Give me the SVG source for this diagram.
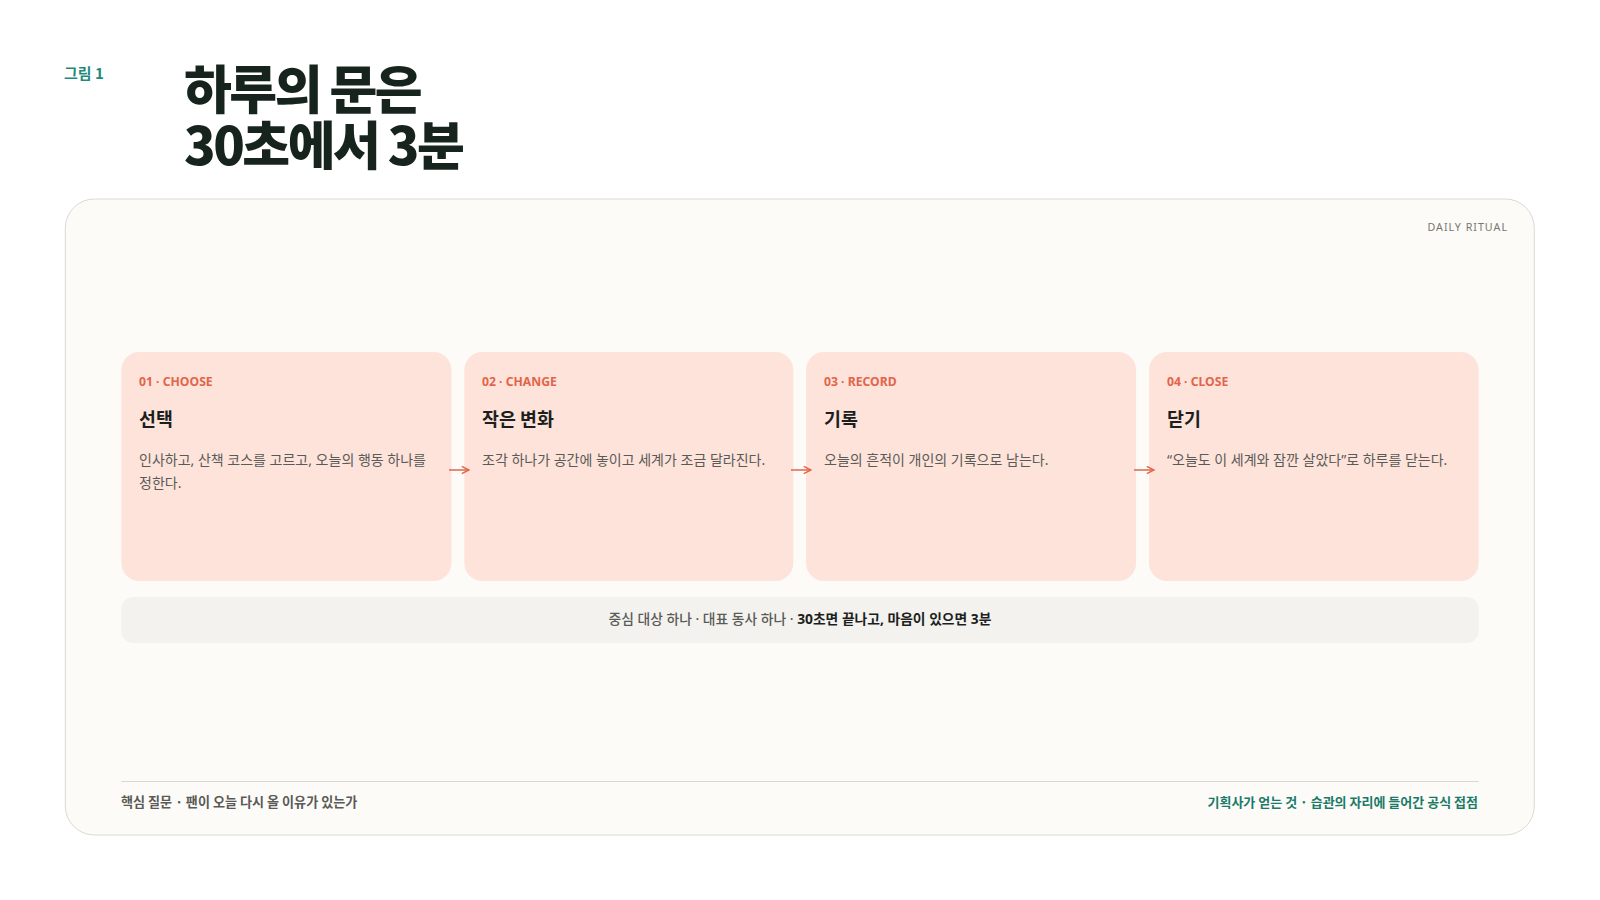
<svg xmlns="http://www.w3.org/2000/svg" width="1600" height="900" viewBox="0 0 1600 900">
<defs>
<style>
.k{font-family:"Noto Sans CJK KR","Noto Sans",sans-serif}
.m{font-family:"Noto Sans","Noto Sans CJK KR",sans-serif}
.tag{font-size:12.2px;font-weight:700;fill:#e2654a}
.ttl{font-size:18.4px;font-weight:700;fill:#1c1f1d}
.body{font-size:14px;fill:#5a5a57}
.card{fill:#fde3da}
.conn{stroke:#e2654a;stroke-width:1.5;fill:none}
</style>
<marker id="ah" viewBox="0 0 10 10" refX="9" refY="5" markerWidth="6" markerHeight="6" orient="auto">
<path d="M1,1 L9,5 L1,9" fill="none" stroke="#e2654a" stroke-width="1.6"/>
</marker>
</defs>
<rect width="1600" height="900" fill="#ffffff"/>
<g id="header">
<text class="k" x="64" y="79" font-size="15" font-weight="700" fill="#1f8a7a">그림 1</text>
<text class="k" x="184" y="109" font-size="52" font-weight="900" fill="#17231d" letter-spacing="-2.5">하루의 문은</text>
<text class="k" x="184" y="165" font-size="52" font-weight="900" fill="#17231d" letter-spacing="-2.5">30초에서 3분</text>
</g>
<g id="panel">
<rect x="65.3" y="199" width="1469" height="636" rx="29" fill="#fcfbf8" stroke="#dcd9d0" stroke-width="1"/>
<text class="m" x="1508" y="231" font-size="10.7" fill="#77776f" letter-spacing="1" text-anchor="end">DAILY RITUAL</text>
</g>
<g id="card1">
<rect class="card" x="121.4" y="352" width="330" height="229" rx="18"/>
<text class="m tag" x="139" y="386">01 · CHOOSE</text>
<text class="k ttl" x="139" y="426">선택</text>
<text class="m body" x="139" y="465">인사하고, 산책 코스를 고르고, 오늘의 행동 하나를</text>
<text class="m body" x="139" y="488">정한다.</text>
</g>
<g id="card2">
<rect class="card" x="464.3" y="352" width="329" height="229" rx="18"/>
<text class="m tag" x="482" y="386">02 · CHANGE</text>
<text class="k ttl" x="482" y="426">작은 변화</text>
<text class="m body" x="482" y="465">조각 하나가 공간에 놓이고 세계가 조금 달라진다.</text>
</g>
<g id="card3">
<rect class="card" x="806.1" y="352" width="330" height="229" rx="18"/>
<text class="m tag" x="824" y="386">03 · RECORD</text>
<text class="k ttl" x="824" y="426">기록</text>
<text class="m body" x="824" y="465">오늘의 흔적이 개인의 기록으로 남는다.</text>
</g>
<g id="card4">
<rect class="card" x="1149" y="352" width="329.6" height="229" rx="18"/>
<text class="m tag" x="1167" y="386">04 · CLOSE</text>
<text class="k ttl" x="1167" y="426">닫기</text>
<text class="m body" x="1167" y="465">“오늘도 이 세계와 잠깐 살았다”로 하루를 닫는다.</text>
</g>
<g id="connectors">
<line class="conn" x1="449" y1="470" x2="469" y2="470" marker-end="url(#ah)"/>
<line class="conn" x1="791" y1="470" x2="811" y2="470" marker-end="url(#ah)"/>
<line class="conn" x1="1134" y1="470" x2="1154" y2="470" marker-end="url(#ah)"/>
</g>
<g id="summary">
<rect x="121.4" y="597" width="1357.2" height="46" rx="12" fill="#f3f2ee"/>
<text class="m" x="800" y="623.5" font-size="13.8" text-anchor="middle" fill="#5a5a57"><tspan font-weight="500">중심 대상 하나 · 대표 동사 하나 · </tspan><tspan font-weight="700" fill="#1c1f1d">30초면 끝나고, 마음이 있으면 3분</tspan></text>
</g>
<g id="footer">
<line x1="121.4" y1="781.5" x2="1478.6" y2="781.5" stroke="#d8d6cf" stroke-width="1"/>
<text class="k" x="121" y="807" font-size="13.1" font-weight="700" fill="#5a5a57">핵심 질문 · 팬이 오늘 다시 올 이유가 있는가</text>
<text class="k" x="1478" y="807" font-size="13" font-weight="700" fill="#1a7a68" text-anchor="end">기획사가 얻는 것 · 습관의 자리에 들어간 공식 접점</text>
</g>
</svg>
